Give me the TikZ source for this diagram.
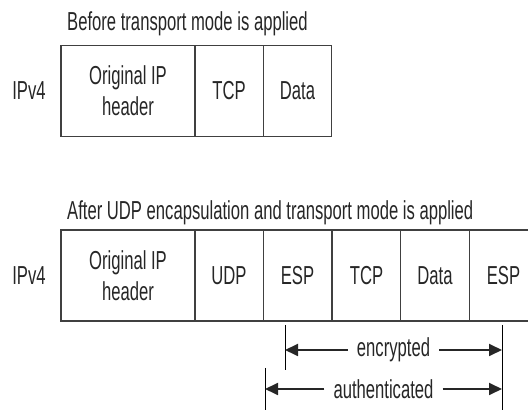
\documentclass[tikz,border=0pt]{standalone}
\usepackage{fontspec}
\setmainfont{Liberation Sans}[FakeStretch=0.64]
\usepackage{tikz}
\usetikzlibrary{arrows.meta,calc}

\begin{document}
\begin{tikzpicture}[x=1pt,y=1pt,
        txt/.style={font=\fontsize{26}{31}\selectfont, text=black!85, inner sep=0pt},
        cell/.style={txt, draw=black!75, line width=1.3pt, align=center, minimum height=91pt},
        wide/.style={cell, minimum width=134pt},
        narrow/.style={cell, minimum width=68.5pt},
        span/.style={-{Triangle[length=13pt,width=12pt]}, line width=1.8pt, black!85},
        tick/.style={line width=0.8pt, black}]
        \clip (0,0) rectangle (528,410);
        \useasboundingbox (0,0) rectangle (528,410);
        \node[txt, anchor=base west] (before) at (67,379) {Before transport mode is applied};
        \node[txt] (ipA) at (29,319) {IPv4};
        \node[wide] (hdrA) at (128,319) {Original IP\\header};
        \node[narrow] (tcpA) at (229,319) {TCP};
        \node[narrow] (dataA) at (297.5,319) {Data};
        \node[txt, anchor=base west] (after) at (67,190) {After UDP encapsulation and transport mode is applied};
        \node[txt] (ipB) at (29,134.5) {IPv4};
        \node[wide] (hdrB) at (128,134.5) {Original IP\\header};
        \node[narrow] (udpB) at (229,134.5) {UDP};
        \node[narrow] (espB) at (297.5,134.5) {ESP};
        \node[narrow] (tcpB) at (366.5,134.5) {TCP};
        \node[narrow] (dataB) at (435,134.5) {Data};
        \node[narrow] (trailB) at (503.5,134.5) {ESP};
        \coordinate (encTop) at (285,85);
        \coordinate (encBot) at (285,40);
        \coordinate (rTop) at (502,85);
        \coordinate (rBot) at (502,0);
        \coordinate (authTop) at (265,42);
        \coordinate (authBot) at (265,0);
        \draw[tick] (encTop) -- (encBot);
        \draw[tick] (rTop) -- (rBot);
        \draw[tick] (authTop) -- (authBot);
        \node[txt, inner xsep=9pt] (enc) at (393.5,60) {encrypted};
        \node[txt, inner xsep=9pt] (auth) at (383.5,21) {authenticated};
        \draw[span] (enc.west) -- (enc.west -| encTop);
        \draw[span] (enc.east) -- (enc.east -| rTop);
        \draw[span] (auth.west) -- (auth.west -| authTop);
        \draw[span] (auth.east) -- (auth.east -| rTop);
    \end{tikzpicture}
\end{document}
